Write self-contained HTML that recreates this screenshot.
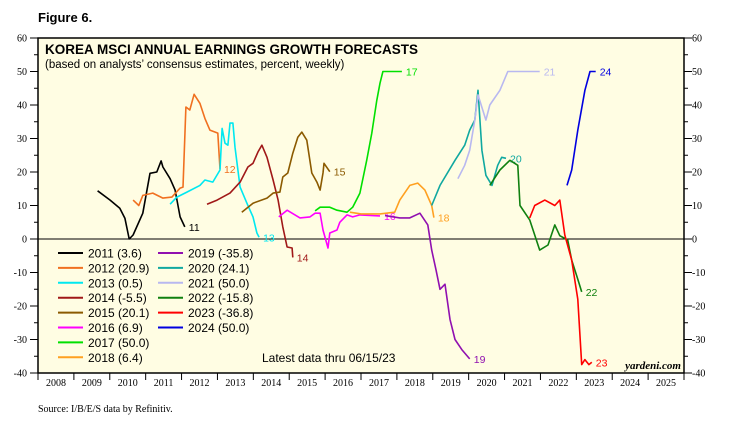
<!DOCTYPE html>
<html><head><meta charset="utf-8"><style>
html,body{margin:0;padding:0;background:#fff;width:742px;height:423px;overflow:hidden}
svg{display:block}
</style></head><body>
<svg id="c" width="742" height="423" xmlns="http://www.w3.org/2000/svg"></svg>
<script>
const years=[2008,2009,2010,2011,2012,2013,2014,2015,2016,2017,2018,2019,2020,2021,2022,2023,2024,2025];
const yTicks=[-40,-30,-20,-10,0,10,20,30,40,50,60];
const seriesNames=["2011","2012","2013","2014","2015","2016","2017","2018","2019","2020","2021","2022","2023","2024"];
const finals=["3.6","20.9","0.5","-5.5","20.1","6.9","50.0","6.4","-35.8","24.1","50.0","-15.8","-36.8","50.0"];
const colors=["#000000","#f07020","#00e8f0","#a01818","#8b5a00","#ff00ff","#00e000","#ffa020","#9010b0","#10a8a0","#b8b8f0","#108010","#ff0000","#0000e0"];
const t11=[9.66,10.01,10.28,10.42,10.54,10.65,10.92,11.12,11.31,11.43,11.48,11.68,11.82,11.96,12.09];
const v11=[14.4,11.6,9.2,6.2,0,1.2,7.7,19.6,20,23.3,21.5,18,14.6,6.6,3.6];
const t12=[10.65,10.81,10.92,11.20,11.48,11.73,11.96,12.04,12.12,12.23,12.35,12.51,12.65,12.79,13.01,13.07];
const v12=[11.6,10,13,13.7,12.2,12.5,15.2,15.5,39.4,38.5,43.2,40.5,36,32.5,31.6,20.9];
const t13=[11.68,11.87,12.15,12.51,12.65,12.87,13.07,13.13,13.21,13.29,13.35,13.43,13.49,13.63,13.82,13.99,14.10,14.16];
const v13=[10.4,12.5,14,16,17.6,17,20.6,33,28.6,28,34.6,34.6,27.4,15.5,10.7,6.6,1.8,0.5];
const t14=[12.71,12.99,13.35,13.63,13.85,13.99,14.13,14.24,14.38,14.55,14.69,14.82,14.94,15.08,15.10];
const v14=[10.4,11.6,13.7,17,21.5,22.6,26,28,24.4,17.6,11.6,3.6,-2.4,-2.7,-5.5];
const t15=[13.68,13.99,14.38,14.55,14.74,14.82,14.96,15.10,15.24,15.35,15.49,15.63,15.77,15.86,15.94,15.97,16.13];
const v15=[8,10.7,12.2,13.7,14,18.5,19.7,25.6,30.4,31.9,29.5,19.7,17,14.6,19.7,22.6,20.1];
const t16=[14.71,14.94,15.30,15.58,15.72,15.86,15.94,16.08,16.13,16.33,16.41,16.61,16.77,16.97,17.53];
const v16=[6.6,8.6,6.3,6.6,7.7,7.7,2.7,-2.7,1.8,2.7,5,7.2,6.6,7.2,6.9];
const t17=[15.72,15.86,16.13,16.33,16.61,16.77,16.97,17.16,17.30,17.44,17.53,17.61,18.14];
const v17=[8.4,9.5,9.5,8.6,8,9.5,13.7,23.5,31.6,41.4,46.5,50,50];
const t18=[16.69,17.0,17.53,17.94,18.08,18.36,18.58,18.78,18.97,19.03];
const v18=[8,7.5,7.5,8,11.6,16,16.7,14.6,10,6.4];
const t19=[17.67,18.08,18.36,18.64,18.86,18.97,19.09,19.20,19.34,19.48,19.62,19.81,20.03];
const v19=[7,6.3,6.3,7.7,4.2,-3.3,-9.2,-15,-13.5,-24,-30,-33,-35.8];
const t20=[18.97,19.20,19.62,19.89,20.03,20.17,20.26,20.37,20.48,20.65,20.81,20.92,21.04];
const v20=[10,16,23.5,28,32.5,35.5,44.4,26.5,19,16,22,24.4,24.1];
const t21=[19.70,19.89,20.03,20.17,20.26,20.48,20.59,20.87,21.09,21.98];
const v21=[18,22,26.5,35.5,43,35.5,40,44.4,50,50];
const t22=[20.59,20.87,21.15,21.37,21.43,21.70,21.98,22.21,22.40,22.54,22.76,22.87,23.04,23.15];
const v22=[16,20.6,23.5,22,10,5.7,-3.3,-1.8,4.2,1,-0.3,-6.3,-12,-15.8];
const t23=[21.70,21.84,22.12,22.40,22.54,22.68,22.87,23.04,23.15,23.24,23.35,23.43];
const v23=[6.3,10,11.6,10,11.6,1.2,-6.3,-18,-37.5,-36,-37.5,-36.8];
const t24=[22.74,22.87,23.04,23.24,23.38,23.54];
const v24=[16,20.6,32.5,44.4,50,50];
const allT=[t11,t12,t13,t14,t15,t16,t17,t18,t19,t20,t21,t22,t23,t24];
const allV=[v11,v12,v13,v14,v15,v16,v17,v18,v19,v20,v21,v22,v23,v24];

const L=38,R=684,T=38,B=373,YW=(R-L)/18;
const xS=t=>L+(t-2008)*YW;  // t = year (2000 + value)
const yS=v=>B-(v+40)*(B-T)/100;
const NS="http://www.w3.org/2000/svg";
const svg=document.getElementById('c');
function mk(tag,attrs,txt){const e=document.createElementNS(NS,tag);for(const k in attrs)e.setAttribute(k,attrs[k]);if(txt!==undefined)e.textContent=txt;svg.appendChild(e);return e;}

let e;
e=mk('text',{x:38,y:22,'font-family':'Liberation Sans, sans-serif','font-size':13,'font-weight':'bold'},'Figure 6.');


e=mk('rect',{x:L,y:T,width:R-L,height:B-T,fill:'#fffde3',stroke:'#000','stroke-width':1.5});


e=mk('text',{x:45,y:54,'font-family':'Liberation Sans, sans-serif','font-size':13.5,'font-weight':'bold'},'KOREA MSCI ANNUAL EARNINGS GROWTH FORECASTS');


e=mk('text',{x:45,y:68,'font-family':'Liberation Sans, sans-serif','font-size':11.5},'(based on analysts\u2019 consensus estimates, percent, weekly)');



// y ticks
for(let v=-40;v<=60;v+=5){
  const y=yS(v),len=(v%10===0)?8:4;
  e=mk('line',{x1:L-len,x2:L,y1:y,y2:y,stroke:'#000','stroke-width':1});
  
  
  e=mk('line',{x1:R,x2:R+len,y1:y,y2:y,stroke:'#000','stroke-width':1});
  
  
}
yTicks.forEach(v=>{
  e=mk('text',{x:27,y:yS(v)+3.5,'text-anchor':'end','font-family':'Liberation Serif, serif','font-size':10},String(v));
  
  
  e=mk('text',{x:692,y:yS(v)+3.5,'font-family':'Liberation Serif, serif','font-size':10},String(v));
  
  
});
e=mk('line',{x1:L,x2:R,y1:yS(0),y2:yS(0),stroke:'#000','stroke-width':1});


// x ticks
for(let i=0;i<=years.length;i++){
  const x=L+i*YW;
  e=mk('line',{x1:x,x2:x,y1:B,y2:B+7,stroke:'#000','stroke-width':1});
  
  
}
years.forEach((yr,i)=>{
  e=mk('text',{x:L+(i+0.5)*YW,y:B+13,'text-anchor':'middle','font-family':'Liberation Serif, serif','font-size':10},String(yr));
  
  
});
// series
allT.forEach((ts,i)=>{
  const vs=allV[i];
  const d=ts.map((t,j)=>(j?'L':'M')+xS(2000+t).toFixed(1)+','+yS(vs[j]).toFixed(1)).join(' ');
  e=mk('path',{d:d,fill:'none',stroke:colors[i],'stroke-width':1.6,'stroke-linejoin':'round'});
  
  
  const lx=xS(2000+ts[ts.length-1])+4,ly=yS(vs[vs.length-1])+4;
  e=mk('text',{x:lx,y:ly,fill:colors[i],'font-family':'Liberation Sans, sans-serif','font-size':10.5},seriesNames[i].slice(2));
  
  
});
// legend
seriesNames.forEach((n,i)=>{
  const col=i<8?0:1,row=i<8?i:i-8;
  const x=58+col*100,y=253+row*14.9;
  e=mk('line',{x1:x,x2:x+25,y1:y,y2:y,stroke:colors[i],'stroke-width':2});
  
  
  e=mk('text',{x:x+30,y:y+4.5,'font-family':'Liberation Sans, sans-serif','font-size':12},n+' ('+finals[i]+')');
  
  
});
e=mk('text',{x:262,y:362,'font-family':'Liberation Sans, sans-serif','font-size':12},'Latest data thru  06/15/23');


e=mk('text',{x:681,y:369,'text-anchor':'end','font-family':'Liberation Serif, serif','font-size':11,'font-weight':'bold','font-style':'italic'},'yardeni.com');


e=mk('text',{x:38,y:412,'font-family':'Liberation Serif, serif','font-size':10},'Source: I/B/E/S data by Refinitiv.');


</script>
</body></html>
